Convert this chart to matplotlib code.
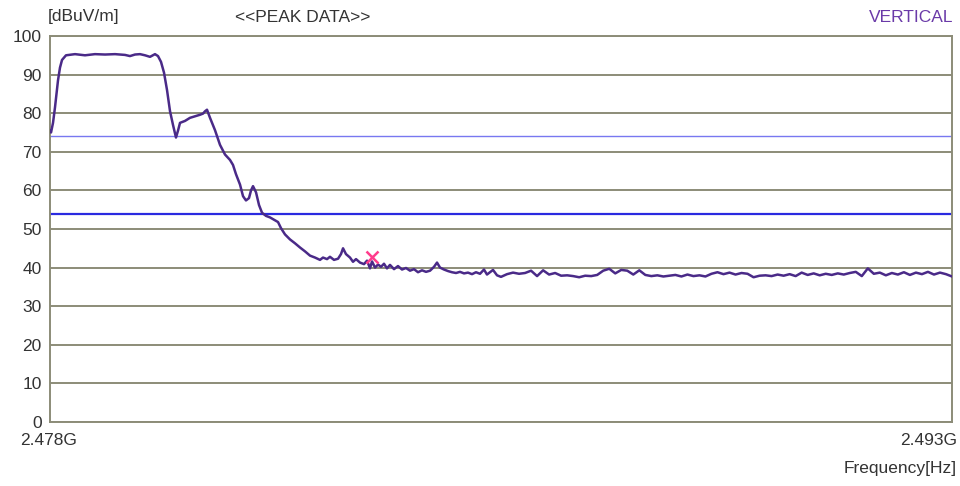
import matplotlib
matplotlib.use("Agg")
from matplotlib import pyplot as plt

plt.rcParams['font.family'] = ['Liberation Sans', 'DejaVu Sans']

# sweep: frequency in MHz, level in dBuV/m
freq_mhz = [
    2478.000, 2478.017, 2478.050, 2478.083, 2478.133, 2478.166, 2478.200, 2478.266,
    2478.416, 2478.582, 2478.748, 2478.915, 2479.081, 2479.247, 2479.330, 2479.414,
    2479.497, 2479.580, 2479.663, 2479.746, 2479.796, 2479.846, 2479.896, 2479.946,
    2479.996, 2480.045, 2480.095, 2480.129, 2480.162, 2480.245, 2480.328, 2480.411,
    2480.495, 2480.545, 2480.578, 2480.611, 2480.661, 2480.744, 2480.827, 2480.910,
    2480.993, 2481.043, 2481.093, 2481.160, 2481.210, 2481.259, 2481.309, 2481.343,
    2481.376, 2481.426, 2481.476, 2481.526, 2481.592, 2481.659, 2481.725, 2481.792,
    2481.842, 2481.908, 2481.991, 2482.074, 2482.158, 2482.241, 2482.324, 2482.407,
    2482.490, 2482.540, 2482.607, 2482.656, 2482.723, 2482.790, 2482.839, 2482.873,
    2482.922, 2482.989, 2483.039, 2483.089, 2483.155, 2483.222, 2483.272, 2483.322,
    2483.355, 2483.405, 2483.455, 2483.505, 2483.554, 2483.604, 2483.654, 2483.721,
    2483.787, 2483.854, 2483.920, 2483.987, 2484.053, 2484.120, 2484.186, 2484.253,
    2484.320, 2484.386, 2484.436, 2484.486, 2484.552, 2484.619, 2484.685, 2484.752,
    2484.818, 2484.885, 2484.951, 2485.018, 2485.084, 2485.151, 2485.217, 2485.267,
    2485.317, 2485.367, 2485.434,
    2485.5, 2485.6, 2485.7, 2485.8, 2485.9, 2486.0, 2486.1, 2486.2, 2486.3, 2486.4,
    2486.5, 2486.6, 2486.7, 2486.8, 2486.9, 2487.0, 2487.1, 2487.2, 2487.3, 2487.4,
    2487.5, 2487.6, 2487.7, 2487.8, 2487.9, 2488.0, 2488.1, 2488.2, 2488.3, 2488.4,
    2488.5, 2488.6, 2488.7, 2488.8, 2488.9, 2489.0, 2489.1, 2489.2, 2489.3, 2489.4,
    2489.5, 2489.6, 2489.7, 2489.8, 2489.9, 2490.0, 2490.1, 2490.2, 2490.3, 2490.4,
    2490.5, 2490.6, 2490.7, 2490.8, 2490.9, 2491.0, 2491.1, 2491.2, 2491.3, 2491.4,
    2491.5, 2491.6, 2491.7, 2491.8, 2491.9, 2492.0, 2492.1, 2492.2, 2492.3, 2492.4,
    2492.5, 2492.6, 2492.7, 2492.8, 2492.9, 2493.0,
]
level_db = [
    75.5, 75.0, 77.5, 81.5, 88.5, 91.8, 93.8, 95.0,
    95.3, 95.0, 95.3, 95.2, 95.3, 95.1, 94.8, 95.2,
    95.3, 95.0, 94.6, 95.3, 94.8, 93.3, 90.5, 86.0,
    80.5, 77.0, 73.7, 75.5, 77.5, 78.0, 78.8, 79.2,
    79.6, 79.9, 80.5, 80.9, 78.8, 75.6, 71.8, 69.3,
    67.9, 66.6, 64.2, 61.5, 58.5, 57.4, 58.0, 60.0,
    61.1, 59.5, 56.2, 54.2, 53.4, 53.0, 52.4, 51.8,
    50.2, 48.6, 47.3, 46.3, 45.2, 44.2, 43.1, 42.6,
    42.0, 42.6, 42.2, 42.8, 42.0, 42.3, 43.5, 45.0,
    43.5, 42.6, 41.5, 42.2, 41.3, 40.9, 41.8, 39.8,
    41.6, 40.0, 40.8, 40.2, 41.0, 39.8, 40.7, 39.6,
    40.4, 39.5, 39.9, 39.2, 39.6, 38.8, 39.3, 38.9,
    39.2, 40.2, 41.3, 40.0, 39.5, 39.1, 38.8, 38.6,
    38.9, 38.5, 38.7, 38.3, 38.8, 38.4, 39.5, 38.2,
    38.8, 39.4, 38.0,
    37.6, 38.3, 38.7, 38.4, 38.6, 39.2, 37.8, 39.3, 38.2, 38.6,
    37.9, 38.0, 37.8, 37.5, 37.9, 37.8, 38.1, 39.2, 39.7, 38.5,
    39.4, 39.2, 38.2, 39.3, 38.1, 37.8, 38.0, 37.7, 37.9, 38.1,
    37.7, 38.2, 37.8, 38.0, 37.7, 38.4, 38.8, 38.3, 38.7, 38.2,
    38.6, 38.4, 37.5, 37.9, 38.0, 37.8, 38.2, 37.9, 38.3, 37.8,
    38.7, 38.1, 38.5, 38.0, 38.4, 38.1, 38.5, 38.2, 38.6, 38.9,
    37.8, 39.8, 38.4, 38.7, 38.0, 38.6, 38.2, 38.8, 38.1, 38.7,
    38.3, 38.9, 38.2, 38.7, 38.3, 37.7,
]

# limit lines (peak / average)
peak_limit = 74
avg_limit = 54

# marked peak
marker_freq = 2483.355
marker_level = 42.7

y_ticks = [0, 10, 20, 30, 40, 50, 60, 70, 80, 90, 100]
x_labels = ['2.478G', '2.493G']

grid_col = '#8c8c78'
text_col = '#333333'
fs = 12.5

fig = plt.figure(figsize=(9.6, 4.86), dpi=100)
ax = fig.add_axes([50 / 960, 64 / 486, 902 / 960, 386 / 486])

for y in y_ticks:
    ax.axhline(y, color=grid_col, lw=1.4, zorder=1)

ax.axhline(peak_limit, color='#7878f0', lw=1.0, zorder=2)
ax.axhline(avg_limit, color='#2a2ae0', lw=1.6, zorder=2)

ax.plot(freq_mhz, level_db, color='#4a2a88', lw=1.8, zorder=3)
ax.plot(marker_freq, marker_level, marker='x', color='#ff3c8c',
        ms=8, mew=1.8, zorder=4)

ax.set_xlim(2478, 2493)
ax.set_ylim(0, 100)
ax.set_xticks([])
ax.set_yticks(y_ticks)
ax.set_yticklabels([str(v) for v in y_ticks], fontsize=fs, color=text_col)
ax.tick_params(axis='y', length=0, pad=6)
for s in ax.spines.values():
    s.set_color(grid_col)
    s.set_linewidth(1.4)

fig.text(49 / 960, 1 - 440 / 486, x_labels[0], ha='center', va='center',
         fontsize=fs, color=text_col)
fig.text(957 / 960, 1 - 440 / 486, x_labels[1], ha='right', va='center',
         fontsize=fs, color=text_col)
fig.text(957 / 960, 1 - 468 / 486, 'Frequency[Hz]', ha='right', va='center',
         fontsize=fs, color=text_col)
fig.text(48 / 960, 1 - 17 / 486, '[dBuV/m]', ha='left', va='center',
         fontsize=fs, color=text_col)
fig.text(235 / 960, 1 - 17 / 486, '<<PEAK DATA>>', ha='left', va='center',
         fontsize=fs, color=text_col)
fig.text(953 / 960, 1 - 17 / 486, 'VERTICAL', ha='right', va='center',
         fontsize=fs, color='#6a3aa8')

fig.savefig('out.png', dpi=100)
